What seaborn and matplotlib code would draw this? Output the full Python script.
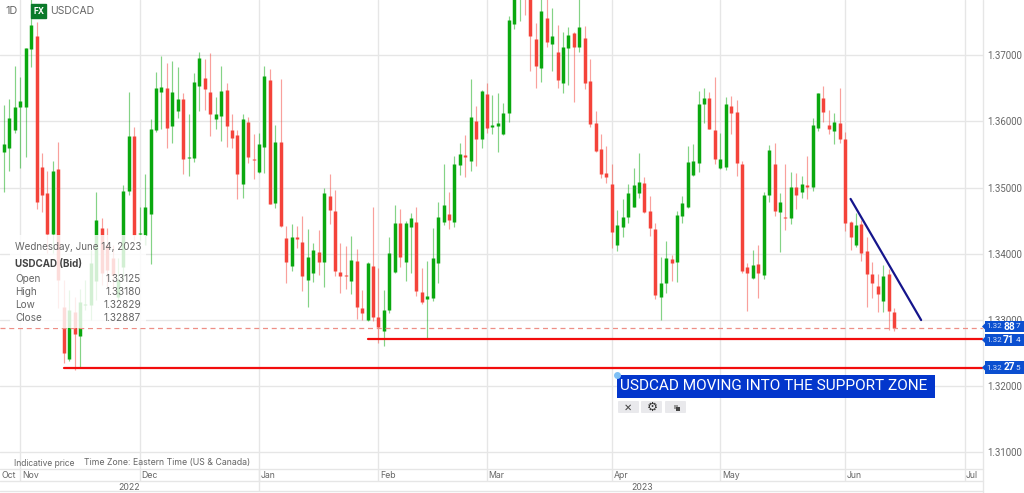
import numpy as np
import pandas as pd
import matplotlib.pyplot as plt
from matplotlib.patches import Rectangle, FancyBboxPatch, Polygon
from matplotlib.transforms import ScaledTranslation
import seaborn as sns

# daily USDCAD candles
opens = [1.3554,1.3560,1.3587,1.3622,1.3622,1.3710,1.3729,1.3531,1.3492,1.3430,
         1.3528,1.3320,1.3241,1.3312,1.3276,1.3323,1.3323,1.3359,1.3439,1.3414,
         1.3394,1.3335,1.3380,1.3495,1.3578,1.3430,1.3429,1.3460,1.3587,1.3645,
         1.3651,1.3593,1.3616,1.3634,1.3545,1.3545,1.3654,1.3666,1.3645,1.3604,
         1.3608,1.3648,1.3587,1.3580,1.3506,1.3599,1.3543,1.3524,1.3562,1.3663,
         1.3477,1.3569,1.3424,1.3382,1.3426,1.3418,1.3361,1.3371,1.3403,1.3388,
         1.3488,1.3465,1.3373,1.3368,1.3359,1.3389,1.3318,1.3300,1.3382,1.3305,
         1.3284,1.3315,1.3373,1.3447,1.3388,1.3441,1.3448,1.3343,1.3332,1.3333,
         1.3386,1.3448,1.3460,1.3448,1.3534,1.3549,1.3540,1.3601,1.3574,1.3642,
         1.3592,1.3593,1.3581,1.3613,1.3747,1.3790,1.3793,1.3788,1.3725,1.3681,
         1.3756,1.3717,1.3705,1.3658,1.3711,1.3734,1.3713,1.3726,1.3661,1.3598,
         1.3558,1.3522,1.3506,1.3414,1.3441,1.3456,1.3471,1.3492,1.3507,1.3465,
         1.3438,1.3335,1.3356,1.3392,1.3388,1.3457,1.3471,1.3519,1.3537,1.3626,
         1.3636,1.3587,1.3530,1.3531,1.3623,1.3614,1.3536,1.3380,1.3364,1.3385,
         1.3368,1.3489,1.3536,1.3463,1.3456,1.3454,1.3501,1.3494,1.3504,1.3501,
         1.3590,1.3636,1.3595,1.3586,1.3598,1.3574,1.3448,1.3414,1.3445,1.3405,
         1.3370,1.3352,1.3329,1.3370,1.33125]
highs = [1.3625,1.3634,1.3684,1.3667,1.3711,1.3788,1.3750,1.3552,1.3525,1.3540,
         1.3569,1.3361,1.3346,1.3335,1.3347,1.3361,1.3406,1.3494,1.3454,1.3439,
         1.3414,1.3394,1.3504,1.3645,1.3592,1.3471,1.3521,1.3604,1.3675,1.3699,
         1.3688,1.3691,1.3682,1.3643,1.3611,1.3673,1.3705,1.3694,1.3703,1.3637,
         1.3684,1.3658,1.3611,1.3587,1.3611,1.3607,1.3581,1.3583,1.3684,1.3679,
         1.3595,1.3664,1.3442,1.3445,1.3442,1.3457,1.3438,1.3417,1.3436,1.3500,
         1.3521,1.3497,1.3417,1.3412,1.3427,1.3408,1.3346,1.3388,1.3471,1.3379,
         1.3346,1.3426,1.3474,1.3468,1.3450,1.3462,1.3471,1.3379,1.3389,1.3439,
         1.3478,1.3536,1.3494,1.3548,1.3568,1.3580,1.3664,1.3623,1.3648,1.3658,
         1.3640,1.3643,1.3628,1.3759,1.3796,1.3814,1.3802,1.3796,1.3749,1.3791,
         1.3791,1.3771,1.3746,1.3735,1.3743,1.3735,1.3788,1.3744,1.3694,1.3616,
         1.3581,1.3563,1.3536,1.3466,1.3483,1.3506,1.3530,1.3552,1.3516,1.3488,
         1.3447,1.3395,1.3420,1.3398,1.3465,1.3488,1.3563,1.3566,1.3646,1.3651,
         1.3645,1.3667,1.3583,1.3637,1.3639,1.3632,1.3540,1.3386,1.3406,1.3414,
         1.3494,1.3565,1.3568,1.3492,1.3536,1.3524,1.3522,1.3518,1.3548,1.3605,
         1.3643,1.3654,1.3617,1.3613,1.3651,1.3584,1.3450,1.3462,1.3451,1.3426,
         1.3388,1.3370,1.3383,1.3377,1.33180]
lows = [1.3494,1.3525,1.3583,1.3530,1.3546,1.3682,1.3468,1.3463,1.3401,1.3401,
        1.3318,1.3235,1.3238,1.3225,1.3228,1.3315,1.3300,1.3330,1.3353,1.3350,
        1.3346,1.3330,1.3361,1.3489,1.3421,1.3421,1.3414,1.3385,1.3584,1.3589,
        1.3560,1.3568,1.3605,1.3521,1.3518,1.3539,1.3616,1.3617,1.3578,1.3589,
        1.3571,1.3561,1.3560,1.3483,1.3484,1.3537,1.3513,1.3522,1.3522,1.3475,
        1.3469,1.3441,1.3356,1.3374,1.3409,1.3344,1.3320,1.3358,1.3368,1.3350,
        1.3445,1.3367,1.3341,1.3347,1.3340,1.3302,1.3300,1.3299,1.3299,1.3266,
        1.3261,1.3311,1.3371,1.3380,1.3359,1.3371,1.3337,1.3324,1.3273,1.3329,
        1.3356,1.3444,1.3438,1.3441,1.3519,1.3516,1.3525,1.3533,1.3560,1.3583,
        1.3581,1.3554,1.3580,1.3599,1.3740,1.3752,1.3761,1.3676,1.3651,1.3660,
        1.3713,1.3676,1.3651,1.3643,1.3655,1.3629,1.3705,1.3649,1.3592,1.3554,
        1.3515,1.3507,1.3409,1.3405,1.3426,1.3447,1.3471,1.3485,1.3462,1.3427,
        1.3332,1.3300,1.3341,1.3359,1.3358,1.3447,1.3469,1.3518,1.3524,1.3598,
        1.3589,1.3536,1.3528,1.3527,1.3581,1.3518,1.3371,1.3314,1.3362,1.3334,
        1.3362,1.3478,1.3457,1.3403,1.3436,1.3445,1.3468,1.3485,1.3483,1.3495,
        1.3586,1.3599,1.3581,1.3566,1.3568,1.3435,1.3406,1.3411,1.3389,1.3320,
        1.3333,1.3312,1.3312,1.3285,1.32829]
closes = [1.3566,1.3605,1.3622,1.3631,1.3711,1.3746,1.3478,1.3489,1.3430,1.3525,
          1.3361,1.3250,1.3315,1.3279,1.3327,1.3324,1.3386,1.3451,1.3371,1.3376,
          1.3368,1.3361,1.3495,1.3578,1.3429,1.3432,1.3471,1.3589,1.3651,1.3652,
          1.3590,1.3645,1.3634,1.3543,1.3546,1.3660,1.3696,1.3649,1.3611,1.3611,
          1.3646,1.3593,1.3575,1.3521,1.3604,1.3546,1.3542,1.3566,1.3669,1.3475,
          1.3569,1.3442,1.3388,1.3426,1.3423,1.3367,1.3395,1.3406,1.3388,1.3492,
          1.3466,1.3374,1.3367,1.3367,1.3391,1.3320,1.3311,1.3386,1.3305,1.3290,
          1.3315,1.3401,1.3447,1.3395,1.3447,1.3454,1.3344,1.3327,1.3337,1.3394,
          1.3456,1.3474,1.3451,1.3536,1.3551,1.3546,1.3607,1.3574,1.3646,1.3590,
          1.3595,1.3598,1.3613,1.3753,1.3790,1.3802,1.3787,1.3729,1.3684,1.3767,
          1.3720,1.3729,1.3663,1.3713,1.3731,1.3713,1.3743,1.3658,1.3596,1.3555,
          1.3521,1.3516,1.3433,1.3444,1.3456,1.3492,1.3504,1.3509,1.3463,1.3439,
          1.3338,1.3356,1.3394,1.3386,1.3459,1.3477,1.3539,1.3540,1.3626,1.3636,
          1.3589,1.3543,1.3543,1.3626,1.3613,1.3537,1.3374,1.3371,1.3383,1.3371,
          1.3489,1.3557,1.3465,1.3478,1.3454,1.3501,1.3489,1.3506,1.3501,1.3595,
          1.3643,1.3614,1.3589,1.3599,1.3574,1.3447,1.3426,1.3444,1.3401,1.3370,
          1.3356,1.3340,1.3367,1.3314,1.32887]

# axis labels
price_ticks = [1.31, 1.32, 1.33, 1.34, 1.35, 1.36, 1.37]
month_ticks = [3, 25, 47, 69, 89, 112, 132, 155, 177]
month_labels = ['Nov', 'Dec', 'Jan', 'Feb', 'Mar', 'Apr', 'May', 'Jun', 'Jul']

# drawn on the chart
last_close = 1.32887
support_upper = 1.32714
support_lower = 1.32275
trend_days = [156, 169]
trend_prices = [1.3483, 1.3300]
support_upper_days = [67, 181]
support_lower_days = [11, 181]

GRID = '#e6e6e6'
TEXT = '#666666'
UP = '#0aa80f'
DOWN = '#f4433a'
BLUE = '#0b4fd0'

sns.set_theme(style='whitegrid')
plt.rcParams['font.family'] = ['Inter', 'DejaVu Sans']
plt.rcParams['grid.color'] = GRID
plt.rcParams['grid.linewidth'] = 1.0

candles = pd.DataFrame({'open': opens, 'high': highs, 'low': lows, 'close': closes})
candles['day'] = candles.index
candles['up'] = candles['close'] >= candles['open']

# one two-point vertical line per candle
wicks = candles.melt(id_vars=['day', 'up'], value_vars=['low', 'high'], value_name='price').sort_values('day')
bodies = candles.melt(id_vars=['day', 'up'], value_vars=['open', 'close'], value_name='price').sort_values('day')
palette = {True: UP, False: DOWN}

fig = plt.figure(figsize=(10.24, 4.93), dpi=100)
ax = fig.add_axes([0, 24 / 493, 983 / 1024, 469 / 493])

sns.lineplot(data=wicks, x='day', y='price', hue='up', units='day', estimator=None, palette=palette,
             linewidth=0.85, alpha=0.5, legend=False, sort=False, solid_capstyle='butt', ax=ax)
sns.lineplot(data=bodies, x='day', y='price', hue='up', units='day', estimator=None, palette=palette,
             linewidth=2.5, legend=False, sort=False, solid_capstyle='butt', ax=ax)

ax.axhline(last_close, color='#ee8f86', lw=0.9, dashes=(4, 3))
sns.lineplot(x=support_upper_days, y=[support_upper] * 2, color='#f20d0d', lw=1.6, ax=ax)
sns.lineplot(x=support_lower_days, y=[support_lower] * 2, color='#f20d0d', lw=1.6, ax=ax)
sns.lineplot(x=trend_days, y=trend_prices, color='#15158c', lw=1.6, ax=ax)

ax.set_xlim(-0.74, 180.4)
ax.set_ylim(1.3075, 1.37835)
ax.set_xlabel('')
ax.set_ylabel('')
ax.yaxis.tick_right()
ax.set_yticks(price_ticks, labels=[f'{p:.5f}' for p in price_ticks])
ax.set_xticks(month_ticks, labels=month_labels)
ax.tick_params(axis='y', length=0, labelsize=6.9, labelcolor=TEXT, pad=3, labelfontfamily='Roboto')
ax.tick_params(axis='x', length=0, labelsize=6.3, labelcolor=TEXT, pad=1.5)
shift = ScaledTranslation(1.5 / 100, 0, fig.dpi_scale_trans)
for lab in ax.get_xticklabels():
    lab.set_ha('left')
    lab.set_transform(lab.get_transform() + shift)
for s in ax.spines.values():
    s.set_visible(False)
ax.vlines(month_ticks, -12 / 469, 0, transform=ax.get_xaxis_transform(), clip_on=False, color=GRID, lw=1)
ax.vlines([47], -22 / 469, 0, transform=ax.get_xaxis_transform(), clip_on=False, color=GRID, lw=1)

# everything else sits on a pixel overlay
ov = fig.add_axes([0, 0, 1, 1], facecolor='none')
ov.set_xlim(0, 1024)
ov.set_ylim(493, 0)
ov.axis('off')

for y in [469, 481, 491]:
    ov.plot([0, 983], [y, y], color=GRID, lw=1)
ov.plot([983, 983], [0, 493], color=GRID, lw=1)

# header
ov.text(5, 11, '1D', fontsize=7.8, color=TEXT, va='center')
ov.add_patch(Rectangle((31, 4), 15, 14, color='#0b7a2a'))
ov.text(38.5, 11.2, 'FX', fontsize=6, color='white', weight='bold', ha='center', va='center')
ov.text(50, 11, 'USDCAD', fontsize=7.5, color=TEXT, va='center')

# hover box
ov.add_patch(Rectangle((10, 235), 136, 93, color='white', alpha=0.82, lw=0, zorder=3))
ov.text(15, 246.5, 'Wednesday, June 14, 2023', fontsize=7.05, color=TEXT, va='center', zorder=4)
ov.text(15, 264, 'USDCAD (Bid)', fontsize=7.05, color='#444444', weight='bold', va='center', zorder=4)
for y, name, val in [(279, 'Open', opens[-1]), (292, 'High', highs[-1]), (305, 'Low', lows[-1]), (318, 'Close', closes[-1])]:
    ov.text(15, y, name, fontsize=7.2, color=TEXT, va='center', zorder=4)
    ov.text(141, y, f'{val:.5f}', fontsize=7.2, color=TEXT, va='center', ha='right', zorder=4)

# footer
ov.text(14, 463, 'Indicative price', fontsize=6.1, color=TEXT, va='center')
ov.text(84, 463, 'Time Zone: Eastern Time (US & Canada)', fontsize=6.3, color=TEXT, va='center')
ov.text(1, 475, 'Oct', fontsize=6.3, color=TEXT, va='center')
ov.text(129, 487, '2022', fontsize=6.3, color=TEXT, va='center', ha='center')
ov.text(642, 487, '2023', fontsize=6.3, color=TEXT, va='center', ha='center')

# price tags on the right
for top, bottom, head, mid, tail in [(321, 332, '1.32', '88', '7'), (334, 346, '1.32', '71', '4'), (361, 374, '1.32', '27', '5')]:
    c = (top + bottom) / 2
    ov.add_patch(Rectangle((985, top), 39, bottom - top, color=BLUE, lw=0, clip_on=False, zorder=5))
    ov.add_patch(Polygon([(985, c - 3), (985, c + 3), (982, c)], color=BLUE, lw=0, zorder=5))
    ov.text(986.5, c, head, fontsize=5.9, family='Roboto', color='#cfdcf7', va='center', zorder=6)
    ov.text(1003.2, c, mid, fontsize=7.3, family='Roboto', color='white', weight='bold', va='center', zorder=6)
    ov.text(1015.5, c, tail, fontsize=5.9, family='Roboto', color='#e4ecfb', va='center', zorder=6)

# text note and its toolbar
ov.add_patch(Rectangle((617, 375), 318, 23, color='#0336cc', lw=0))
ov.text(620, 386, 'USDCAD MOVING INTO THE SUPPORT ZONE', fontsize=11.1, family='Roboto', color='white', va='center')
ov.plot([617], [375], 'o', ms=4, color='#7fc0f5')
for x0 in [618, 641, 665]:
    ov.add_patch(FancyBboxPatch((x0 + 1, 402), 19, 10, boxstyle='round,pad=1', fc='#e9e9ec', ec='none'))
ov.text(628, 408, '\u00d7', fontsize=9, color='#444444', ha='center', va='center')
ov.text(652, 407.5, '\u2699', fontsize=9, color='#333333', ha='center', va='center')
ov.add_patch(Rectangle((673.5, 405), 4, 4, fc='#999999', ec='none'))
ov.add_patch(Rectangle((675.5, 407), 4.5, 4, fc='#444444', ec='none'))

plt.savefig('out.png', dpi=100)
